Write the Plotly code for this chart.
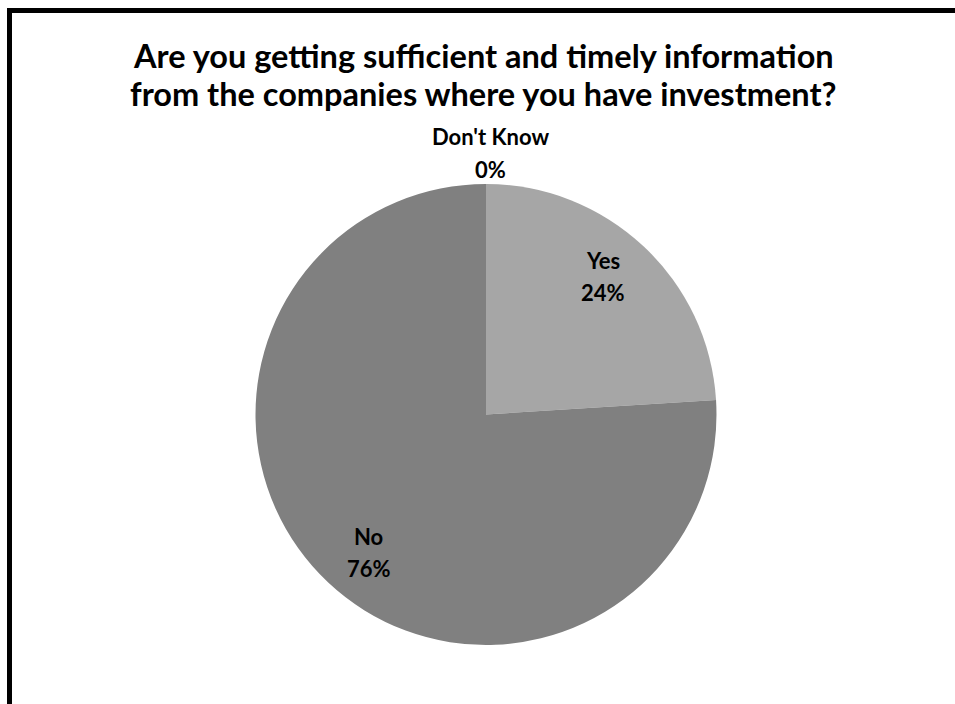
import math
import plotly.graph_objects as go

# Survey answers and their shares (percent)
categories = ["Yes", "No", "Don't Know"]
shares = [24, 76, 0]
slice_colors = ["#a6a6a6", "#808080", "#595959"]

title_lines = [
    "Are you getting sufficient and timely information",
    "from the companies where you have investment?",
]

W, H = 955, 704
FONT = "Lato"

# Pie geometry in pixels (centre and radius), converted to a paper domain
cx, cy, R = 486.0, 414.5, 230.5
dom_x = [(cx - R) / W, (cx + R) / W]
dom_y = [(H - cy - R) / H, (H - cy + R) / H]

fig = go.Figure(
    go.Pie(
        labels=categories,
        values=shares,
        sort=False,
        direction="clockwise",
        rotation=0,
        marker=dict(colors=slice_colors, line=dict(width=0)),
        textinfo="none",
        hoverinfo="label+percent",
        showlegend=False,
        domain=dict(x=dom_x, y=dom_y),
    )
)

annotations = []
total = sum(shares)
start = 0.0
for name, val in zip(categories, shares):
    sweep = 360.0 * val / total
    if val > 0:
        # inside labels sit a little counter-clockwise of the slice middle
        mid = math.radians(start + sweep / 2 - 2.9)
        r = 0.785 * R
        lx = cx + r * math.sin(mid)
        ly = cy - r * math.cos(mid)
        offs = (-16, 16)
    else:
        mid = math.radians(start + sweep / 2)
        r = R + 31
        lx = cx + 5 + r * math.sin(mid)
        ly = cy - r * math.cos(mid)
        offs = (-17, 16)
    pct = f"{val / total * 100:.0f}%"
    for txt, dy in zip((name, pct), offs):
        annotations.append(
            dict(
                x=lx / W, y=(H - (ly + dy)) / H,
                xref="paper", yref="paper",
                text=f"<b>{txt}</b>", showarrow=False,
                xanchor="center", yanchor="middle",
                font=dict(family=FONT, size=22, color="#000000"),
            )
        )
    start += sweep

# Two-line chart title
for txt, yc in zip(title_lines, (55, 93.5)):
    annotations.append(
        dict(
            x=483 / W, y=(H - yc) / H, xref="paper", yref="paper",
            text=f"<b>{txt}</b>", showarrow=False,
            xanchor="center", yanchor="middle",
            font=dict(family=FONT, size=32.5, color="#000000"),
        )
    )

# Chart frame: top edge and left edge
shapes = [
    dict(type="line", xref="paper", yref="paper",
         x0=7 / W, x1=1.0, y0=(H - 10.5) / H, y1=(H - 10.5) / H,
         line=dict(color="#000000", width=5)),
    dict(type="line", xref="paper", yref="paper",
         x0=9.5 / W, x1=9.5 / W, y0=0.0, y1=(H - 8) / H,
         line=dict(color="#000000", width=5)),
]

fig.update_layout(
    width=W, height=H,
    margin=dict(l=0, r=0, t=0, b=0),
    paper_bgcolor="#ffffff",
    plot_bgcolor="#ffffff",
    annotations=annotations,
    shapes=shapes,
)

fig.write_html("out.html")
